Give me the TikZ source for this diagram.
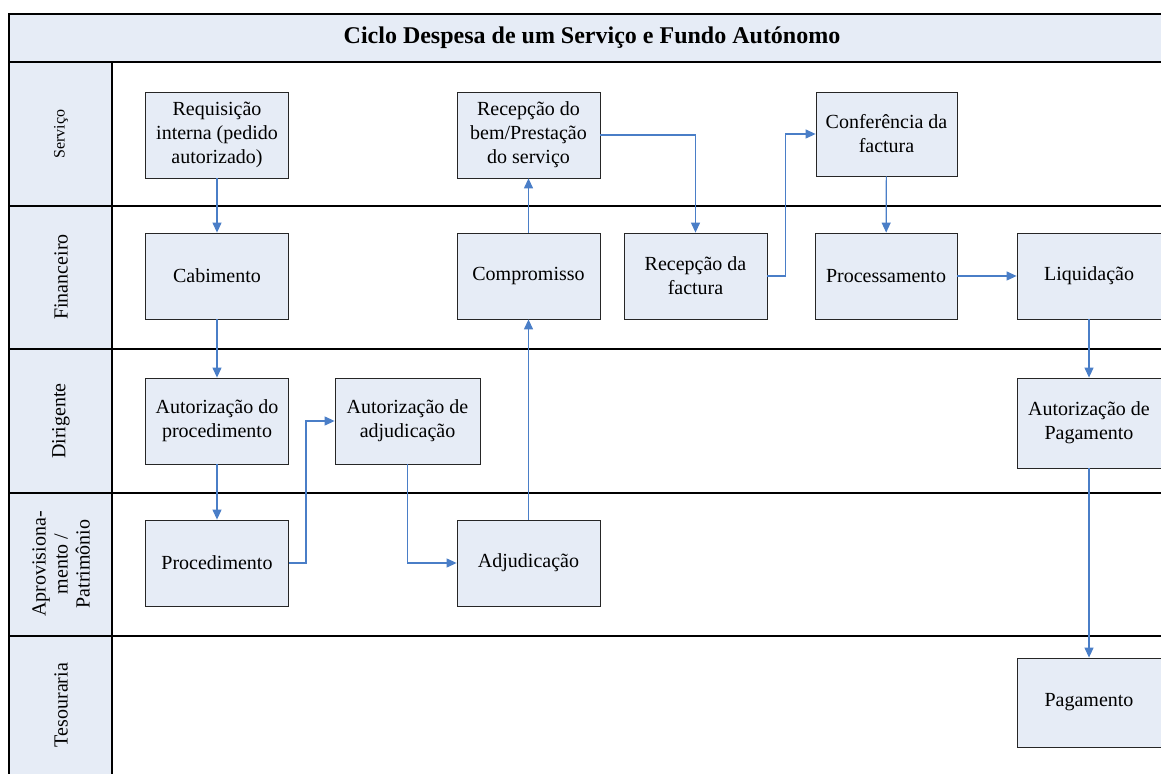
\documentclass[tikz,border=0pt]{standalone}
\usepackage{fontspec}
\setmainfont{Liberation Serif}
\usetikzlibrary{arrows.meta,positioning}
\definecolor{lanefill}{HTML}{E6ECF6}
\definecolor{flowblue}{HTML}{4A7EC7}

\begin{document}
\begin{tikzpicture}[
  x=0.5pt, y=-0.5pt,
  box/.style={draw=black!85, fill=lanefill, align=center, minimum width=71.5pt, minimum height=43pt, inner sep=2pt, font=\fontsize{10}{12}\selectfont},
  lanelabel/.style={rotate=90, align=center, font=\fontsize{10}{11}\selectfont},
  arr/.style={-{Triangle[length=5pt,width=4.5pt]}, flowblue, line width=0.6pt},
  sep/.style={line width=0.8pt}
]
\useasboundingbox (0,0) rectangle (1161,774);
\clip (0,0) rectangle (1161,774);

% pool and lanes
\fill[lanefill] (9,14) rectangle (1170,62);
\fill[lanefill] (9,62) rectangle (112,780);
\draw[sep] (1170,14) -- (9,14) -- (9,780);
\draw[sep] (112,62) -- (112,780);
\foreach \y in {62,206,349,493,636} \draw[sep] (9,\y) -- (1170,\y);

\node[font=\fontsize{12}{14}\selectfont\bfseries] (title) at (592,38) {Ciclo Despesa de um Serviço e Fundo Autónomo};
\node[lanelabel, font=\fontsize{8}{10}\selectfont] (lservico) at (61,134) {Serviço};
\node[lanelabel] (lfinanceiro) at (61,277) {Financeiro};
\node[lanelabel] (ldirigente) at (61,421) {Dirigente};
\node[lanelabel] (laprov) at (61,564) {Aprovisiona-\\mento /\\Patrimônio};
\node[lanelabel] (ltesouraria) at (61,705) {Tesouraria};

% tasks
\node[box] (req) at (217,135) {Requisição\\interna (pedido\\autorizado)};
\node[box] (cabimento) at (217,276) {Cabimento};
\node[box] (autproc) at (217,421) {Autorização do\\procedimento};
\node[box] (proced) at (217,563) {Procedimento};
\node[box, minimum width=72.5pt] (autadj) at (407.5,421) {Autorização de\\adjudicação};
\node[box] (adjud) at (528.5,563) {Adjudicação};
\node[box] (compromisso) at (528.5,276) {Compromisso};
\node[box] (recbem) at (528.5,135) {Recepção do\\bem/Prestação\\do serviço};
\node[box] (recfact) at (695.5,276) {Recepção da\\factura};
\node[box, minimum width=70.5pt, minimum height=42pt] (conf) at (886.5,134) {Conferência da\\factura};
\node[box, minimum width=71pt] (process) at (886,276) {Processamento};
\node[box, minimum width=72pt] (liq) at (1089,276) {Liquidação};
\node[box, minimum width=72pt, minimum height=45pt] (autpag) at (1089,423) {Autorização de\\Pagamento};
\node[box, minimum width=72pt, minimum height=44.5pt] (pag) at (1089,702.5) {Pagamento};

% flow
\draw[arr] (req) -- (cabimento);
\draw[arr] (cabimento) -- (autproc);
\draw[arr] (autproc) -- (proced);
\draw[arr] (proced.east) -- ++(17,0) |- (autadj.west);
\draw[arr] (autadj.south) |- (adjud.west);
\draw[arr] (adjud) -- (compromisso);
\draw[arr] (compromisso) -- (recbem);
\draw[arr] (recbem.east) -| (recfact.north);
\draw[arr] (recfact.east) -- ++(18,0) |- (conf.west);
\draw[arr] (conf) -- (process);
\draw[arr] (process) -- (liq);
\draw[arr] (liq) -- (autpag);
\draw[arr] (autpag) -- (pag);
\end{tikzpicture}
\end{document}
